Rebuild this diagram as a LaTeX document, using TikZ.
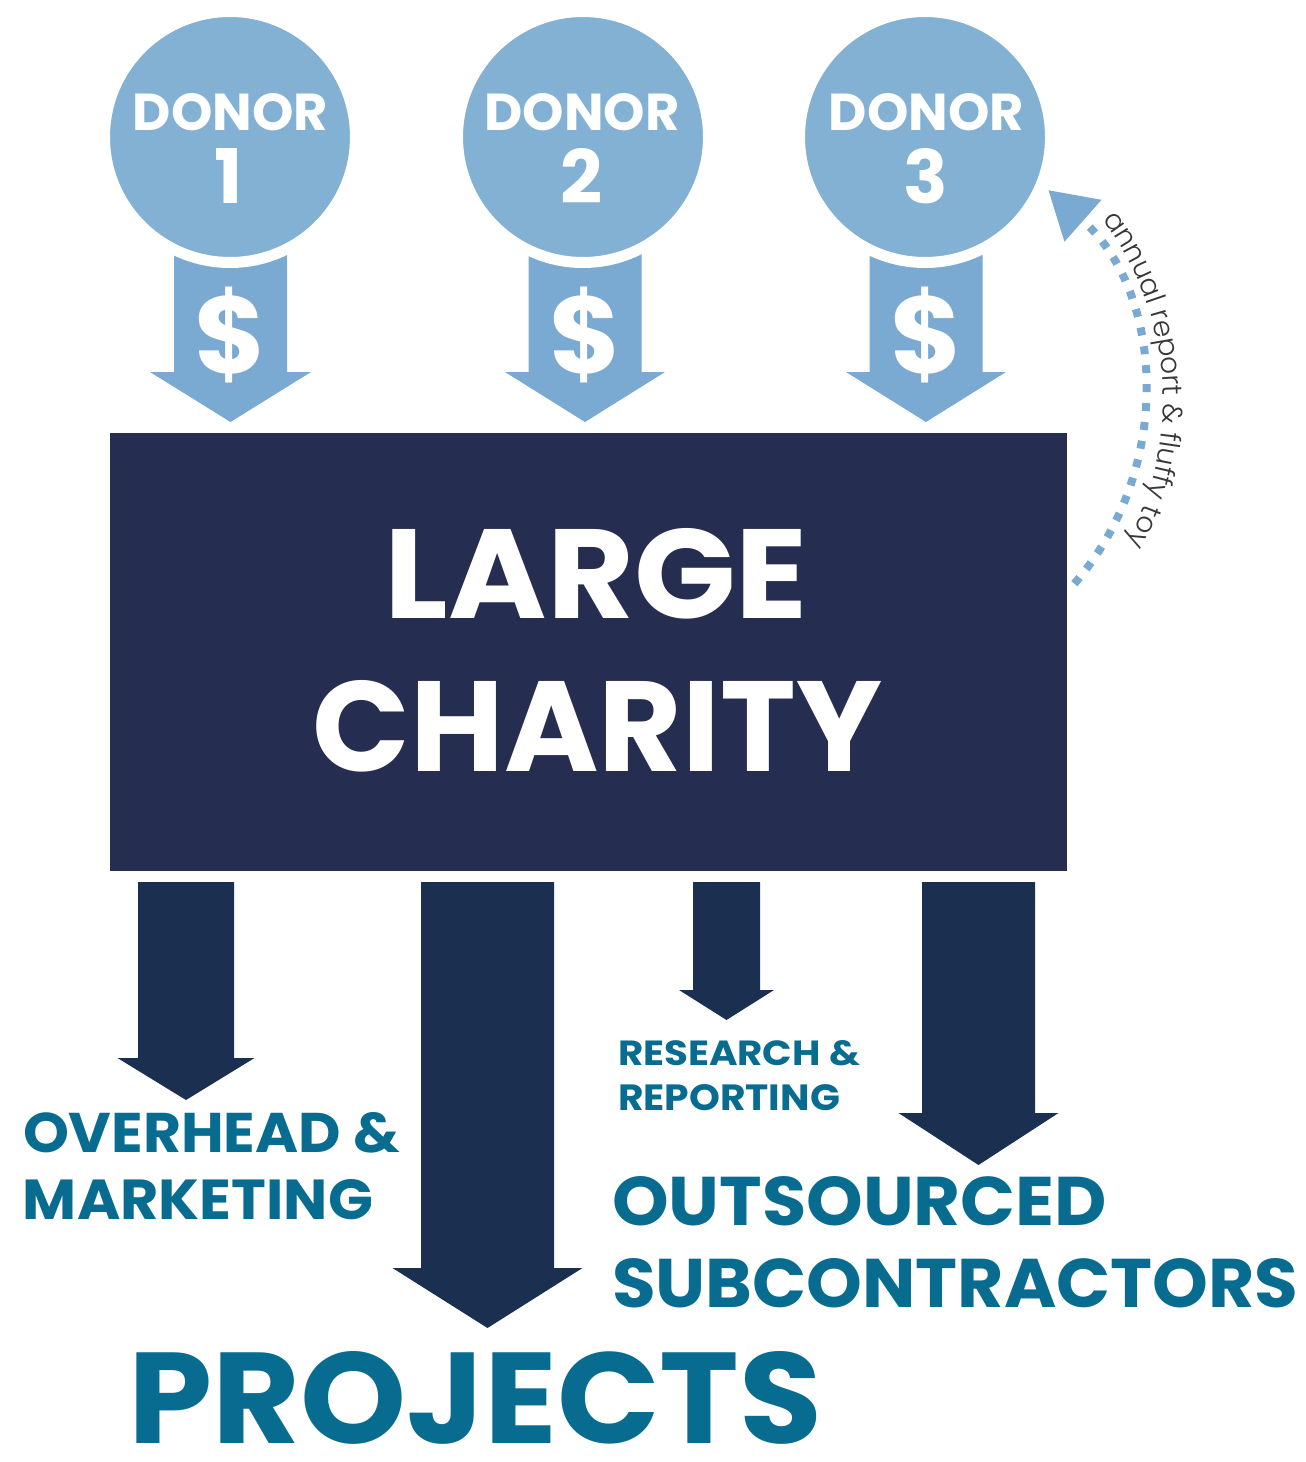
\documentclass[tikz,border=0pt]{standalone}
\usepackage{fontspec}
\usepackage{graphicx}
\newfontfamily\pop{Poppins}
\newfontfamily\popl{Poppins Light}
\usetikzlibrary{arrows.meta,decorations.text}
\definecolor{donorblue}{RGB}{130,177,212}
\definecolor{arrowblue}{RGB}{122,170,209}
\definecolor{boxnavy}{RGB}{37,45,81}
\definecolor{arrownavy}{RGB}{27,48,80}
\definecolor{tealtext}{RGB}{8,108,145}
\definecolor{notegray}{RGB}{55,55,55}
\newcommand\fitw[3]{\resizebox{#1pt}{#2pt}{\pop\bfseries #3}}
\newcommand\fith[2]{\resizebox{!}{#1pt}{\pop\bfseries #2}}
\newcommand\blockarrow[7]{%
  \fill[#7] ({#1-#2},#3) -- ({#1+#2},#3) -- ({#1+#2},#4) -- ({#1+#5},#4)
    -- (#1,#6) -- ({#1-#5},#4) -- ({#1-#2},#4) -- cycle;}
\begin{document}
\begin{tikzpicture}[x=1pt,y=-1pt,
  lab/.style={inner sep=0pt, outer sep=0pt},
  donor/.style={circle, minimum size=251pt, inner sep=0pt, fill=donorblue, draw=white, line width=11pt},
  charitybox/.style={rectangle, fill=boxnavy, inner sep=0pt, minimum width=957pt, minimum height=438pt},
  whitetext/.style={lab, text=white},
  tealt/.style={lab, text=tealtext, anchor=base west},
  feedback/.style={draw=arrowblue, line width=8pt, dash pattern=on 8pt off 11pt,
     -{Triangle[width=56pt,length=46pt,line width=0pt]}}
]
\useasboundingbox (0,0) rectangle (1306,1462);

% light donor arrows
\blockarrow{230.5}{56.5}{200}{372}{80.5}{422}{arrowblue}
\blockarrow{585}{56.5}{200}{372}{80}{422}{arrowblue}
\blockarrow{926}{56.5}{200}{372}{80}{422}{arrowblue}

% donor circles
\node[donor] (d1) at (230,137) {};
\node[donor] (d2) at (583,137) {};
\node[donor] (d3) at (925,137) {};

\node[whitetext, anchor=base] (d1t) at (230.5,130) {\fitw{195}{37}{DONOR}};
\node[whitetext, anchor=base] (d2t) at (582,130) {\fitw{195}{37}{DONOR}};
\node[whitetext, anchor=base] (d3t) at (926.5,130) {\fitw{195}{37}{DONOR}};
\node[whitetext, anchor=base] (d1n) at (229,203) {\fith{55}{1}};
\node[whitetext, anchor=base] (d2n) at (582,203) {\fith{55}{2}};
\node[whitetext, anchor=base] (d3n) at (926,203) {\fith{55}{3}};
\node[whitetext] (d1s) at (230.5,335) {\resizebox*{!}{96pt}{\pop\bfseries\$}};
\node[whitetext] (d2s) at (585,335) {\resizebox*{!}{96pt}{\pop\bfseries\$}};
\node[whitetext] (d3s) at (926,335) {\resizebox*{!}{96pt}{\pop\bfseries\$}};

% large charity box
\node[charitybox, anchor=north west] (charity) at (110,433) {};
\node[whitetext, anchor=base] (large) at (596.5,618) {\fitw{423}{90}{LARGE}};
\node[whitetext, anchor=base] (char) at (597.5,771) {\fitw{569}{91}{CHARITY}};

% dark outgoing arrows
\blockarrow{186}{48}{882}{1058}{68.5}{1100}{arrownavy}
\blockarrow{487.5}{66.5}{882}{1268}{95}{1328}{arrownavy}
\blockarrow{726.5}{33.5}{882}{990}{47.5}{1020}{arrownavy}
\blockarrow{978.5}{56.5}{882}{1113}{80}{1165}{arrownavy}

% labels
\node[tealt] (ov) at (23,1152) {\fitw{377}{40}{OVERHEAD \&}};
\node[tealt] (mk) at (23,1219) {\fitw{350}{40}{MARKETING}};
\node[tealt] (rs) at (618,1065) {\fitw{242}{25}{RESEARCH \&}};
\node[tealt] (rp) at (618,1110) {\fitw{222}{26}{REPORTING}};
\node[tealt] (os) at (612,1225) {\fitw{495}{49}{OUTSOURCED}};
\node[tealt] (sc) at (612,1307) {\fitw{686}{49}{SUBCONTRACTORS}};
\node[tealt] (pj) at (128,1443) {\fitw{694}{92}{PROJECTS}};

% feedback arc
\coordinate (arcc) at (863,400);
\path (arcc) ++(41:280) coordinate (fbstart);
\path (arcc) ++(-48.5:280) coordinate (fbend);
\draw[feedback] (fbstart) arc[start angle=41, end angle=-48.5, radius=280];
\path[decorate, decoration={text along path, text color=notegray,
   text={|\popl\fontsize{28}{28}\selectfont|annual report {\&} fluffy toy}, text align=left}]
   (arcc) ++(-37:300) arc[start angle=-37, end angle=50, radius=300];
\end{tikzpicture}
\end{document}
